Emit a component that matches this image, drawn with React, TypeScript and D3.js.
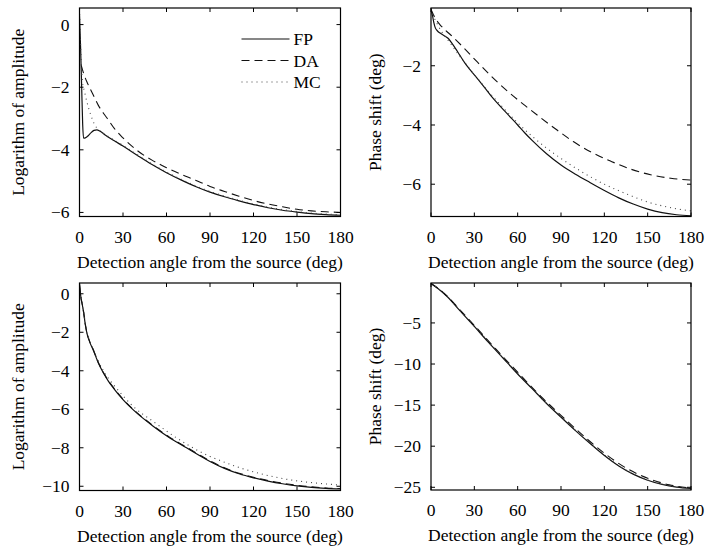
import React from "react";
import * as d3 from "d3";

// ---------- data ----------
const xTicks = [0, 30, 60, 90, 120, 150, 180];
const xLabel = "Detection angle from the source (deg)";
const ampLabel = "Logarithm of amplitude";
const phaseLabel = "Phase shift (deg)";
const legendNames = ["FP", "DA", "MC"];

const amp1Ticks = [0, -2, -4, -6];
const ph1Ticks = [-2, -4, -6];
const amp2Ticks = [0, -2, -4, -6, -8, -10];
const ph2Ticks = [-5, -10, -15, -20, -25];

const amp1FP: [number, number][] = [[0,0.3],[0.8,-0.8],[1.5,-2.0],[2.2,-3.2],[2.8,-3.63],[4,-3.62],[6,-3.55],[8,-3.45],[10,-3.38],[12,-3.36],[14,-3.4],[17,-3.5],[20,-3.6],[25,-3.74],[30,-3.88],[40,-4.18],[50,-4.47],[60,-4.73],[70,-4.96],[80,-5.17],[90,-5.35],[100,-5.5],[110,-5.63],[120,-5.75],[130,-5.85],[140,-5.93],[150,-5.99],[160,-6.04],[170,-6.07],[180,-6.09]];
const amp1DA: [number, number][] = [[1.2,-1.3],[3,-1.58],[5,-1.82],[7.35,-2.05],[10,-2.3],[13,-2.58],[16.5,-2.83],[20,-3.05],[23.4,-3.28],[30,-3.62],[40,-4.03],[50,-4.33],[60,-4.57],[70,-4.78],[80,-4.97],[90,-5.17],[100,-5.33],[110,-5.48],[120,-5.62],[130,-5.73],[140,-5.82],[150,-5.9],[160,-5.95],[170,-5.98],[180,-6.0]];
const amp1MC: [number, number][] = [[0,0.5],[0.5,-0.3],[1.2,-1.2],[2,-1.8],[3.5,-2.15],[5,-2.45],[7.5,-2.85],[10,-3.15],[12.5,-3.33],[15,-3.42],[20,-3.58],[30,-3.86],[40,-4.16],[50,-4.45],[60,-4.71],[70,-4.94],[80,-5.15],[90,-5.33],[100,-5.48],[110,-5.61],[120,-5.73],[130,-5.83],[140,-5.91],[150,-5.97],[160,-6.02],[170,-6.05],[180,-6.07]];

const ph1FP: [number, number][] = [[0,-0.1],[1,-0.3],[2,-0.55],[3,-0.72],[4,-0.8],[5,-0.85],[7,-0.92],[9.7,-1.0],[12,-1.08],[14.3,-1.23],[17,-1.42],[20,-1.65],[23.5,-1.91],[27,-2.13],[32.7,-2.47],[37,-2.73],[42,-3.04],[48,-3.37],[53.5,-3.66],[60,-4.0],[65,-4.27],[70,-4.52],[80,-4.97],[90,-5.35],[100,-5.66],[110,-5.94],[120,-6.21],[130,-6.46],[140,-6.67],[150,-6.84],[160,-6.96],[170,-7.03],[180,-7.07]];
const ph1DA: [number, number][] = [[0,-0.1],[3,-0.4],[6,-0.6],[10,-0.8],[15,-1.02],[21.8,-1.35],[32.2,-1.88],[43.1,-2.42],[53.5,-2.88],[65,-3.34],[75.5,-3.74],[87.5,-4.18],[98.5,-4.56],[111,-4.92],[124.8,-5.23],[138.2,-5.49],[152,-5.68],[166,-5.8],[180,-5.86]];
const ph1MC: [number, number][] = [[0,-0.1],[2,-0.35],[4,-0.56],[7,-0.82],[10,-1.02],[14,-1.28],[18,-1.55],[23.5,-1.9],[30,-2.3],[40,-2.88],[50,-3.42],[60,-3.93],[70,-4.38],[80,-4.78],[90,-5.13],[100,-5.45],[110,-5.74],[120,-6.0],[130,-6.22],[140,-6.42],[150,-6.6],[160,-6.73],[170,-6.83],[180,-6.9]];

const amp2FP: [number, number][] = [[0,0.5],[1,-0.2],[2,-0.6],[2.8,-0.95],[4,-1.6],[5.1,-2.04],[7,-2.5],[9.6,-2.95],[13,-3.6],[16.5,-4.12],[20,-4.55],[23.4,-4.9],[30,-5.5],[39.4,-6.19],[50.8,-6.88],[62.3,-7.49],[73.8,-8.0],[83,-8.41],[90,-8.71],[100,-9.07],[110,-9.35],[120,-9.56],[130,-9.73],[140,-9.87],[150,-9.98],[160,-10.06],[170,-10.11],[180,-10.14]];
const amp2DA: [number, number][] = [[0,0.5],[1,-0.18],[2,-0.58],[2.8,-0.93],[4,-1.57],[5.1,-2.01],[7,-2.47],[9.6,-2.92],[13,-3.57],[16.5,-4.09],[20,-4.52],[23.4,-4.87],[30,-5.47],[39.4,-6.16],[50.8,-6.85],[62.3,-7.46],[73.8,-7.97],[83,-8.38],[90,-8.68],[100,-9.04],[110,-9.32],[120,-9.53],[130,-9.7],[140,-9.84],[150,-9.95],[160,-10.03],[170,-10.09],[180,-10.12]];
const amp2MC: [number, number][] = [[0,0.56],[1,-0.15],[2,-0.55],[3,-1.0],[5,-1.95],[7,-2.45],[10,-2.95],[13,-3.5],[16.5,-4.0],[20,-4.4],[23.4,-4.72],[30,-5.3],[37,-5.85],[50.8,-6.63],[67,-7.49],[83,-8.2],[90,-8.45],[100,-8.75],[111.5,-9.06],[125,-9.35],[136.8,-9.55],[150,-9.72],[163,-9.83],[180,-9.94]];

const ph2FP: [number, number][] = [[0,-0.2],[5,-0.85],[11.5,-1.84],[20,-3.5],[30.3,-5.49],[40,-7.4],[50,-9.3],[59.7,-11.15],[70,-13.0],[80,-14.8],[89.7,-16.42],[100,-18.1],[110,-19.65],[119.6,-21.07],[130,-22.4],[140,-23.4],[149.5,-24.11],[160,-24.65],[170,-24.98],[180,-25.15]];
const ph2DA: [number, number][] = [[0,-0.2],[5,-0.8],[11.5,-1.8],[20,-3.4],[30,-5.3],[45,-8.2],[60,-11.0],[75,-13.75],[90,-16.25],[105,-18.65],[120,-20.85],[135,-22.65],[150,-23.9],[165,-24.7],[180,-25.1]];
const ph2MC: [number, number][] = [[0,-0.2],[5,-0.83],[11.5,-1.82],[20,-3.47],[30,-5.4],[40,-7.35],[50,-9.25],[60,-11.15],[70,-12.97],[80,-14.77],[90,-16.42],[100,-18.07],[110,-19.62],[120,-21.05],[130,-22.37],[140,-23.37],[150,-24.1],[160,-24.62],[170,-24.95],[180,-25.12]];

// ---------- styles ----------
const FONT = "'Liberation Serif', 'Times New Roman', serif";
const FS = 17.5;
const styles = [
  { dash: undefined as string | undefined, width: 1.2, color: "#111" },
  { dash: "8,5", width: 1.1, color: "#111" },
  { dash: "1,4", width: 1.1, color: "#444" },
];

type Series = [number, number][];

function Panel(props: {
  left: number; right: number; top: number; bottom: number;
  yDomain: [number, number]; yTicks: number[]; yLabel: string; yLabelX: number;
  series: Series[]; legend?: boolean;
}) {
  const { left, right, top, bottom, yDomain, yTicks, yLabel, yLabelX, series, legend } = props;
  const x = d3.scaleLinear().domain([0, 180]).range([left, right]);
  const y = d3.scaleLinear().domain(yDomain).range([bottom, top]);
  const line = d3.line<[number, number]>().x(d => x(d[0])).y(d => y(d[1])).curve(d3.curveMonotoneX);
  const tl = 4;
  const fmt = (v: number) => (v < 0 ? "\u2212" + Math.abs(v) : String(v));
  return (
    <g>
      <defs>
        <clipPath id={`clip-${left}-${top}`}>
          <rect x={left} y={top} width={right - left} height={bottom - top} />
        </clipPath>
      </defs>
      <g clipPath={`url(#clip-${left}-${top})`}>
        {series.map((s, i) => (
          <path key={i} d={line(s) || ""} fill="none" stroke={styles[i].color}
            strokeWidth={styles[i].width} strokeDasharray={styles[i].dash} />
        ))}
      </g>
      <rect x={left} y={top} width={right - left} height={bottom - top} fill="none" stroke="#000" strokeWidth={1.2} />
      {xTicks.map(t => (
        <g key={"x" + t}>
          <line x1={x(t)} x2={x(t)} y1={bottom} y2={bottom - tl} stroke="#000" />
          <line x1={x(t)} x2={x(t)} y1={top} y2={top + tl} stroke="#000" />
          <text x={x(t)} y={bottom + 26} textAnchor="middle" fontFamily={FONT} fontSize={FS}>{t}</text>
        </g>
      ))}
      {yTicks.map(t => (
        <g key={"y" + t}>
          <line x1={left} x2={left + tl} y1={y(t)} y2={y(t)} stroke="#000" />
          <line x1={right} x2={right - tl} y1={y(t)} y2={y(t)} stroke="#000" />
          <text x={left - 10} y={y(t) + 6} textAnchor="end" fontFamily={FONT} fontSize={FS}>{fmt(t)}</text>
        </g>
      ))}
      <text x={(left + right) / 2} y={bottom + 51} textAnchor="middle" fontFamily={FONT} fontSize={FS}>{xLabel}</text>
      <text transform={`translate(${yLabelX},${(top + bottom) / 2}) rotate(-90)`} textAnchor="middle"
        dominantBaseline="central" fontFamily={FONT} fontSize={FS}>{yLabel}</text>
      {legend && legendNames.map((n, i) => {
        const ly = top + 31 + i * 21.5;
        return (
          <g key={n}>
            <line x1={left + 162} x2={left + 210} y1={ly} y2={ly} stroke={styles[i].color}
              strokeWidth={styles[i].width} strokeDasharray={styles[i].dash} />
            <text x={left + 214} y={ly + 6} fontFamily={FONT} fontSize={FS}>{n}</text>
          </g>
        );
      })}
    </g>
  );
}

export default function App() {
  return (
    <svg width={705} height={546} style={{ position: "absolute", left: 0, top: 0, background: "#fff" }}>
      <Panel left={79.5} right={340.5} top={8} bottom={216.5} yDomain={[-6.13, 0.53]} yTicks={amp1Ticks}
        yLabel={ampLabel} yLabelX={18} series={[amp1FP, amp1DA, amp1MC]} legend />
      <Panel left={431} right={691} top={8} bottom={216.5} yDomain={[-7.09, -0.05]} yTicks={ph1Ticks}
        yLabel={phaseLabel} yLabelX={375} series={[ph1FP, ph1DA, ph1MC]} />
      <Panel left={79.5} right={340.5} top={283} bottom={490.5} yDomain={[-10.22, 0.56]} yTicks={amp2Ticks}
        yLabel={ampLabel} yLabelX={18} series={[amp2FP, amp2DA, amp2MC]} />
      <Panel left={431} right={691} top={283} bottom={490} yDomain={[-25.33, -0.14]} yTicks={ph2Ticks}
        yLabel={phaseLabel} yLabelX={375} series={[ph2FP, ph2DA, ph2MC]} />
    </svg>
  );
}
